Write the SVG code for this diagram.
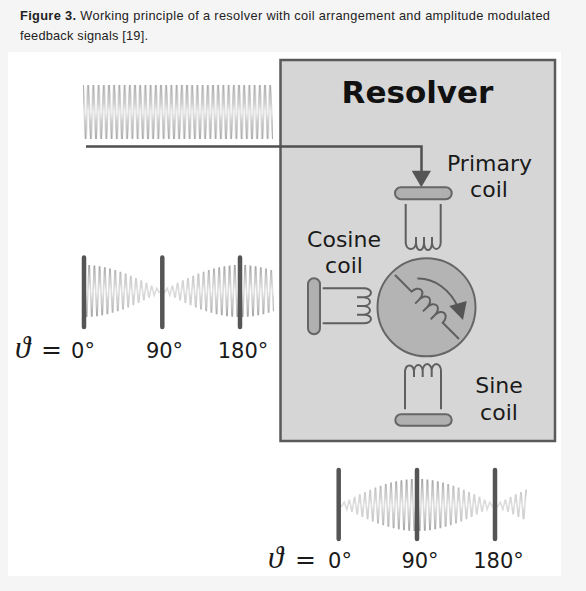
<svg xmlns="http://www.w3.org/2000/svg" width="586" height="591" viewBox="0 0 586 591">
<style>
.cap{font-family:"Liberation Sans",Arial,sans-serif;font-size:12.8px;fill:#222}
.lab{font-family:"DejaVu Sans",Verdana,sans-serif;font-size:22px;fill:#1a1a1a;text-anchor:middle}
.ang{font-family:"DejaVu Sans",Verdana,sans-serif;font-size:21px;fill:#1a1a1a;text-anchor:middle}
.th{font-family:"Liberation Serif",serif;font-style:italic;font-size:31px;fill:#1a1a1a}
.eq{font-family:"DejaVu Sans",sans-serif;font-size:25px;fill:#1a1a1a}
.ln{fill:none;stroke:#5f5f5f;stroke-width:2}
.plate{fill:#b0b0b0;stroke:#666;stroke-width:2}
.bar{stroke:#555;stroke-width:4.5;stroke-linecap:round}
.wave{fill:none;stroke:url(#wg);stroke-width:1.7}
</style>
<defs>
<filter id="soft" x="-5%" y="-5%" width="110%" height="110%"><feGaussianBlur stdDeviation="0.4"/></filter>
<linearGradient id="wg" gradientUnits="userSpaceOnUse" x1="0" y1="-27" x2="0" y2="27">
<stop offset="0" stop-color="#9a9a9a"/><stop offset=".25" stop-color="#c8c8c8"/><stop offset=".5" stop-color="#e0e0e0"/><stop offset=".75" stop-color="#c8c8c8"/><stop offset="1" stop-color="#9a9a9a"/>
</linearGradient>
<linearGradient id="cg" gradientUnits="userSpaceOnUse" x1="0" y1="0" x2="0" y2="54">
<stop offset="0" stop-color="#a8a8a8"/><stop offset=".5" stop-color="#e2e2e2"/><stop offset="1" stop-color="#a8a8a8"/>
</linearGradient>
<pattern id="carrier" patternUnits="userSpaceOnUse" x="83" y="85" width="5.2" height="54">
<path d="M0,0L2.6,54L5.2,0" fill="none" stroke="url(#cg)" stroke-width="1.8"/>
</pattern>
<path id="mod" class="wave" d="M0,-26L2.6,26L5.2,-25.9L7.8,25.7L10.4,-25.4L13,25.1L15.6,-24.7L18.2,24.3L20.8,-23.8L23.4,23.2L26,-22.5L28.6,21.8L31.2,-21L33.8,20.2L36.4,-19.3L39,18.4L41.6,-17.4L44.2,16.4L46.8,-15.3L49.4,14.2L52,-13L54.6,11.8L57.2,-10.6L59.8,9.3L62.4,-8L65,6.7L67.6,-5.4L70.2,4.1L72.8,-2.7L75.4,1.4L78,0L80.6,1.4L83.2,-2.7L85.8,4.1L88.4,-5.4L91,6.7L93.6,-8L96.2,9.3L98.8,-10.6L101.4,11.8L104,-13L106.6,14.2L109.2,-15.3L111.8,16.4L114.4,-17.4L117,18.4L119.6,-19.3L122.2,20.2L124.8,-21L127.4,21.8L130,-22.5L132.6,23.2L135.2,-23.8L137.8,24.3L140.4,-24.7L143,25.1L145.6,-25.4L148.2,25.7L150.8,-25.9L153.4,26L156,-26L158.6,26L161.2,-25.9L163.8,25.7L166.4,-25.4L169,25.1L171.6,-24.7L174.2,24.3L176.8,-23.8L179.4,23.2L182,-22.5L184.6,21.8L187.2,-21L189.8,20.2L192.4,-19.3L195,18.4L197.6,-17.4L200.2,16.4L202.8,-15.3L205.4,14.2L208,-13L210.6,11.8L213.2,-10.6L215.8,9.3L218.4,-8L221,6.7L223.6,-5.4L226.2,4.1L228.8,-2.7L231.4,1.4L234,0L236.6,1.4L239.2,-2.7L241.8,4.1L244.4,-5.4L247,6.7L249.6,-8L252.2,9.3L254.8,-10.6L257.4,11.8L260,-13L262.6,14.2L265.2,-15.3"/>
<clipPath id="clipL"><rect x="86" y="255" width="188" height="72"/></clipPath>
<clipPath id="clipB"><rect x="340" y="468" width="188" height="74"/></clipPath>
</defs>
<rect width="586" height="591" fill="#f5f5f5"/>
<rect x="8" y="52" width="553" height="524" fill="#fff"/>
<g id="caption">
<text class="cap" x="20" y="20" textLength="530"><tspan font-weight="bold">Figure 3.</tspan> Working principle of a resolver with coil arrangement and amplitude modulated</text>
<text class="cap" x="20" y="39.5" textLength="128">feedback signals [19].</text>
</g>
<g id="resolver">
<rect x="280.5" y="60" width="274.5" height="381" fill="#d6d6d6" stroke="#5a5a5a" stroke-width="2.5"/>
<text x="417.5" y="103" font-family="'DejaVu Sans',Verdana,sans-serif" font-weight="bold" font-size="31" fill="#111" text-anchor="middle">Resolver</text>
</g>
<g id="input-signal" filter="url(#soft)"><rect x="83" y="85" width="190" height="54" fill="url(#carrier)"/></g>
<g id="connectors">
<path d="M86,146.5H421.5V172" fill="none" stroke="#505050" stroke-width="2.5"/>
<path d="M411.7,170.7H431L421.3,187.3Z" fill="#555"/>
</g>
<g id="primary-coil">
<rect class="plate" x="395" y="187.3" width="56.7" height="12" rx="6"/>
<path class="ln" d="M405.7,204V243A5.2,7 0 0 0 416,243V237M416,243A4,7 0 0 0 424,243V237M424,243A4,7 0 0 0 432,243V237M432,243A4.4,7 0 0 0 440.7,243V204"/>
<text class="lab" x="489.5" y="171">Primary</text>
<text class="lab" x="489" y="197">coil</text>
</g>
<g id="cosine-coil">
<rect class="plate" x="308" y="278.3" width="12" height="56" rx="6"/>
<path class="ln" d="M322.7,288.3H364A7,4.5 0 0 1 364,297.3H357M364,297.3A7,4.4 0 0 1 364,306H357M364,306A7,4.4 0 0 1 364,314.7H357M364,314.7A7,4.3 0 0 1 364,323.3H322.7"/>
<text class="lab" x="344" y="247">Cosine</text>
<text class="lab" x="344" y="272.5">coil</text>
</g>
<g id="rotor">
<circle cx="426.5" cy="307.3" r="49" fill="#b4b4b4" stroke="#666" stroke-width="2"/>
<path class="ln" transform="translate(395,275) rotate(45)" d="M0,0H23.5A5.5,8 0 0 1 34.5,0V6M34.5,0A5.5,8 0 0 1 45.5,0V6M45.5,0A5.5,8 0 0 1 56.5,0V6M56.5,0A5.5,8 0 0 1 67.5,0H90.5"/>
<path class="ln" d="M417.3,278.5C435,278 450,290 458,307"/>
<path d="M466.7,301L449.3,306L463,320Z" fill="#555"/>
</g>
<g id="sine-coil">
<rect class="plate" x="395.3" y="414.3" width="56.4" height="11.4" rx="5.7"/>
<path class="ln" d="M405,409.3V371A4.6,7 0 0 1 414,371V377M414,371A4.4,7 0 0 1 422.7,371V377M422.7,371A4.5,7 0 0 1 431.7,371V377M431.7,371A4.6,7 0 0 1 441,371V409.3"/>
<text class="lab" x="499" y="393">Sine</text>
<text class="lab" x="499" y="420">coil</text>
</g>
<g id="cosine-signal">
<g clip-path="url(#clipL)"><g filter="url(#soft)"><use href="#mod" transform="translate(84,291)"/></g></g>
<path class="bar" d="M84,257.5V327M162.3,257.5V327M240,257.5V327"/>
<text class="th" x="15" y="358">ϑ</text>
<text class="eq" x="41" y="358">=</text>
<text class="ang" x="83" y="358">0°</text>
<text class="ang" x="164.5" y="358">90°</text>
<text class="ang" x="243" y="358">180°</text>
</g>
<g id="sine-signal">
<g clip-path="url(#clipB)"><g filter="url(#soft)"><use href="#mod" transform="translate(261,505)"/></g></g>
<path class="bar" d="M338.7,470V539M417,470V539M495,470V539"/>
<text class="th" x="268" y="568">ϑ</text>
<text class="eq" x="295" y="568">=</text>
<text class="ang" x="340" y="568">0°</text>
<text class="ang" x="420" y="568">90°</text>
<text class="ang" x="498.5" y="568">180°</text>
</g>
</svg>
